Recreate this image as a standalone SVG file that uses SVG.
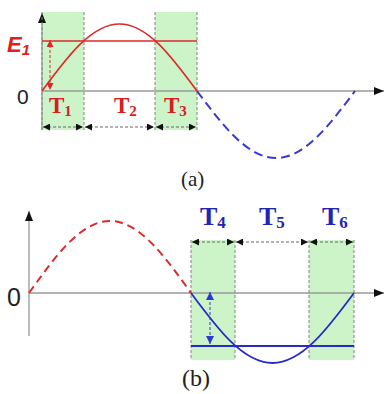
<svg xmlns="http://www.w3.org/2000/svg" width="385" height="394" viewBox="0 0 385 394">
<defs>
<marker id="ah" viewBox="0 0 10 10" refX="10" refY="5" markerWidth="7" markerHeight="7" markerUnits="userSpaceOnUse" orient="auto-start-reverse"><path d="M0,0 L10,5 L0,10 Z" fill="#111"/></marker>
<marker id="axh" viewBox="0 0 10 10" refX="10" refY="5" markerWidth="10" markerHeight="10" markerUnits="userSpaceOnUse" orient="auto"><path d="M0,1 L10,5 L0,9 Z" fill="#111"/></marker>
<marker id="ahr" viewBox="0 0 10 10" refX="10" refY="5" markerWidth="7" markerHeight="7" markerUnits="userSpaceOnUse" orient="auto-start-reverse"><path d="M0,0 L10,5 L0,10 Z" fill="#e02828"/></marker>
<marker id="ahb" viewBox="0 0 10 10" refX="10" refY="5" markerWidth="8" markerHeight="8" markerUnits="userSpaceOnUse" orient="auto-start-reverse"><path d="M0,0 L10,5 L0,10 Z" fill="#2a3ad0"/></marker>
</defs>
<style>
.zone{fill:#cdf4c8}
.grid{stroke:#7a8a7a;stroke-width:1;stroke-dasharray:3,2;fill:none}
.axis{stroke:#9a9a9a;stroke-width:1.3;fill:none}
.span{stroke:#666;stroke-width:1;stroke-dasharray:3,2;fill:none;marker-start:url(#ah);marker-end:url(#ah)}
.red{stroke:#dd2a2a;stroke-width:1.6;fill:none}
.redd{stroke:#dd2a2a;stroke-width:2;fill:none;stroke-dasharray:8,5}
.blue{stroke:#2a2ac8;stroke-width:1.8;fill:none}
.blued{stroke:#3a3ad0;stroke-width:2;fill:none;stroke-dasharray:9,5}
.tl{font-family:"Liberation Serif","Times New Roman",serif;font-weight:bold}
.sans{font-family:"Liberation Sans",Arial,sans-serif;fill:#222}
.cap{font-family:"Liberation Serif","Times New Roman",serif;fill:#222}
</style>
<g id="panel-a">
<g id="zones-a">
<rect class="zone" x="42" y="12" width="42" height="118"/>
<rect class="zone" x="155" y="12" width="42" height="118"/>
</g>
<g id="axes-a">
<line class="axis" x1="42" y1="130" x2="42" y2="13" marker-end="url(#axh)"/>
<line class="axis" x1="42" y1="91" x2="384" y2="91" marker-end="url(#axh)"/>
</g>
<g id="grid-a">
<line class="grid" x1="42" y1="12" x2="42" y2="130"/>
<line class="grid" x1="84" y1="12" x2="84" y2="130"/>
<line class="grid" x1="155" y1="12" x2="155" y2="130"/>
<line class="grid" x1="197" y1="12" x2="197" y2="130"/>
</g>
<g id="wave-a">
<path class="red" d="M42,91 C67.28,56.68 91.45,24 119.5,24 C147.55,24 171.72,56.68 197,91"/>
<path class="blued" d="M197,91 C222.77,125.32 247.41,158 276,158 C304.59,158 329.23,125.32 355,91"/>
<line class="red" x1="42" y1="41" x2="197" y2="41"/>
</g>
<g id="labels-a">
<text x="7" y="52" font-family="Liberation Sans,Arial,sans-serif" font-style="italic" font-weight="bold" font-size="22" fill="#e02020">E<tspan font-size="15" dy="3">1</tspan></text>
<text class="sans" x="17" y="104" font-size="21">0</text>
<text class="tl" x="49" y="113" font-size="23" fill="#d42020">T<tspan font-size="15" dy="3">1</tspan></text>
<text class="tl" x="114" y="113" font-size="23" fill="#d42020">T<tspan font-size="15" dy="3">2</tspan></text>
<text class="tl" x="164" y="113" font-size="23" fill="#d42020">T<tspan font-size="15" dy="3">3</tspan></text>
<text class="cap" x="181" y="186" font-size="21">(a)</text>
</g>
</g>
<g id="panel-b">
<g id="zones-b">
<rect class="zone" x="191" y="240" width="44" height="120"/>
<rect class="zone" x="309" y="240" width="45" height="120"/>
</g>
<g id="axes-b">
<line class="axis" x1="29" y1="336" x2="29" y2="211" marker-end="url(#axh)"/>
<line class="axis" x1="29" y1="293" x2="384" y2="293" marker-end="url(#axh)"/>
</g>
<g id="grid-b">
<line class="grid" x1="191" y1="240" x2="191" y2="360"/>
<line class="grid" x1="235" y1="240" x2="235" y2="360"/>
<line class="grid" x1="309" y1="240" x2="309" y2="360"/>
<line class="grid" x1="354" y1="240" x2="354" y2="360"/>
</g>
<g id="wave-b">
<path class="redd" d="M29,293 C55.42,256.11 80.69,221 110,221 C139.31,221 164.58,256.11 191,293"/>
<path class="blue" d="M191,293 C217.58,328.86 243,363 272.5,363 C302,363 327.42,328.86 354,293"/>
<line class="blue" x1="191" y1="346" x2="354" y2="346"/>
</g>
<g id="labels-b">
<text class="sans" x="7" y="306" font-size="25">0</text>
<text class="tl" x="200" y="225" font-size="26" fill="#2424b4">T<tspan font-size="17" dy="3">4</tspan></text>
<text class="tl" x="259" y="225" font-size="26" fill="#2424b4">T<tspan font-size="17" dy="3">5</tspan></text>
<text class="tl" x="322" y="225" font-size="26" fill="#2424b4">T<tspan font-size="17" dy="3">6</tspan></text>
<text class="cap" x="182" y="386" font-size="24">(b)</text>
</g>
</g>
<g id="connectors">
<line class="span" x1="43" y1="127" x2="83" y2="127"/>
<line class="span" x1="85" y1="127" x2="154" y2="127"/>
<line class="span" x1="156" y1="127" x2="196" y2="127"/>
<line class="span" x1="192" y1="242" x2="234" y2="242"/>
<line class="span" x1="236" y1="242" x2="308" y2="242"/>
<line class="span" x1="310" y1="242" x2="353" y2="242"/>
<line stroke="#dd2a2a" stroke-width="1" stroke-dasharray="3,2" x1="50" y1="40" x2="50" y2="90" marker-start="url(#ahr)" marker-end="url(#ahr)"/>
<line stroke="#2a3ad0" stroke-width="1" stroke-dasharray="3,2" x1="210" y1="292" x2="210" y2="344" marker-start="url(#ahb)" marker-end="url(#ahb)"/>
</g>
</svg>
